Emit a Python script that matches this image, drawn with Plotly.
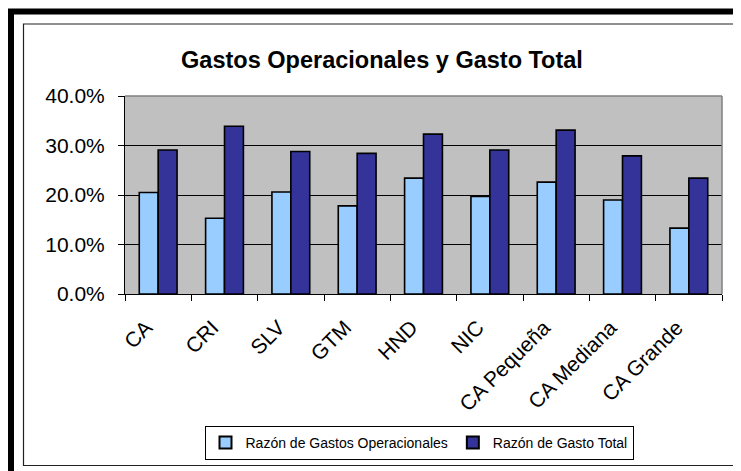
import plotly.graph_objects as go

categories = ["CA", "CRI", "SLV", "GTM", "HND", "NIC", "CA Pequeña", "CA Mediana", "CA Grande"]
gastos_operacionales = [0.205, 0.153, 0.206, 0.178, 0.234, 0.197, 0.226, 0.190, 0.133]
gasto_total = [0.291, 0.339, 0.288, 0.284, 0.323, 0.291, 0.331, 0.279, 0.234]
y_ticks = [0, 0.1, 0.2, 0.3, 0.4]

# page body has an 8px margin; figure fills the remaining viewport
OFF = 8
W, H = 741 - OFF, 471 - OFF
L, T = 125 - OFF, 96 - OFF
R, B = W - (722 - OFF), H - (294 - OFF)
pw, ph = W - L - R, H - T - B

def px(x):
    return (x - OFF - L) / pw

def py(y):
    return (H - B - (y - OFF)) / ph

font = "Liberation Sans, Arial, sans-serif"

fig = go.Figure()
fig.add_trace(go.Bar(x=categories, y=gastos_operacionales, name="Razón de Gastos Operacionales",
                     marker=dict(color="#99CCFF", line=dict(color="black", width=1.6))))
fig.add_trace(go.Bar(x=categories, y=gasto_total, name="Razón de Gasto Total",
                     marker=dict(color="#333399", line=dict(color="black", width=1.6))))

fig.update_layout(
    width=W, height=H,
    margin=dict(l=L, r=R, t=T, b=B, pad=0, autoexpand=False),
    paper_bgcolor="white",
    plot_bgcolor="#C0C0C0",
    barmode="group", bargap=0.43, bargroupgap=0,
    title=dict(text="<b>Gastos Operacionales y Gasto Total</b>", x=(382 - OFF) / W, xanchor="center",
               y=1 - (60 - OFF) / H, yanchor="middle",
               font=dict(family=font, size=23.5, color="black")),
    font=dict(family=font, color="black"),
    showlegend=True,
    legend=dict(orientation="h", x=px(419), xanchor="center", y=py(426), yanchor="top",
                bgcolor="white", bordercolor="black", borderwidth=1,
                font=dict(family=font, size=14, color="black"),
                itemwidth=30, tracegroupgap=0,
                itemsizing="constant", traceorder="normal"),
    xaxis=dict(tickangle=-45, tickfont=dict(family=font, size=21, color="black"),
               showline=True, linecolor="black", linewidth=1, automargin=False,
               ticks="outside", tickson="boundaries", ticklen=6, tickcolor="black",
               ticklabelstandoff=12, ticklabelshift=-12,
               showgrid=False),
    yaxis=dict(range=[0, 0.4], tickvals=y_ticks, tickformat=".1%", automargin=False,
               tickfont=dict(family=font, size=21, color="black"),
               showline=True, linecolor="black", linewidth=1,
               ticks="outside", ticklen=6, tickcolor="black", ticklabelstandoff=9,
               showgrid=True, gridcolor="black", gridwidth=1, zeroline=False),
    shapes=[
        dict(type="line", xref="paper", yref="paper", x0=0, x1=1, y0=1, y1=1,
             line=dict(color="#808080", width=1.5), layer="above"),
        dict(type="line", xref="paper", yref="paper", x0=1, x1=1, y0=0, y1=1,
             line=dict(color="#808080", width=1.5), layer="above"),
        dict(type="rect", xref="paper", yref="paper", x0=px(11), x1=px(760), y0=py(11.5), y1=py(490),
             line=dict(color="black", width=6), layer="above"),
        dict(type="rect", xref="paper", yref="paper", x0=px(23.5), x1=px(736.5), y0=py(24), y1=py(465.5),
             line=dict(color="#222222", width=1.2), layer="above"),
    ],
)

fig.write_html("out.html")
